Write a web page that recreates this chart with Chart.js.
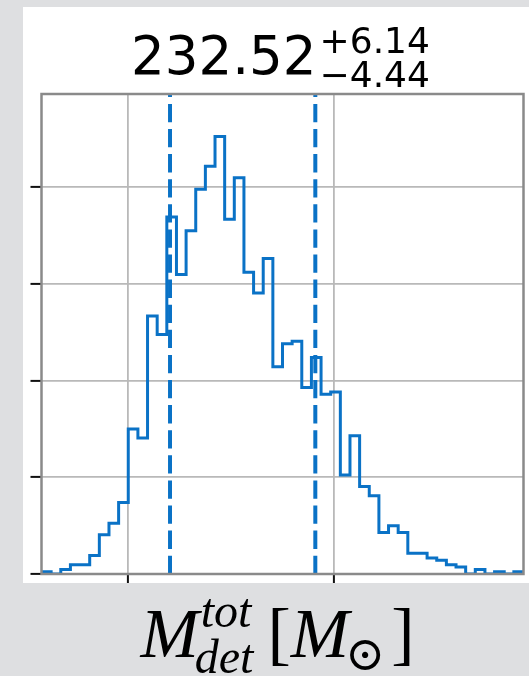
<!DOCTYPE html>
<html>
<head>
<meta charset="utf-8">
<script src="https://cdn.jsdelivr.net/npm/chart.js@4.4.1/dist/chart.umd.min.js"></script>
<style>
  html, body { margin: 0; padding: 0; background: #dedfe1; }
  canvas { display: block; }
</style>
</head>
<body>
<canvas id="c" width="529" height="676"></canvas>
<script>
// Posterior samples of the total detector-frame mass, 50 equal-width bins
const binStart = 218.72;
const binWidth = 0.702;
const binCounts = [
  1, 0, 2, 4, 4, 8, 17, 22, 31, 63,
  59, 112, 104, 155, 130, 149, 167, 177, 190, 154,
  172, 131, 122, 137, 90, 100, 101, 81, 94, 78,
  79, 43, 60, 38, 34, 18, 21, 18, 9, 9,
  7, 6, 4, 3, 0, 2, 0, 1, 0, 1
];

// Median with upper / lower credible offsets
const median = 232.52;
const errPlus = 6.14;
const errMinus = 4.44;

// Axis ticks (no tick labels are drawn)
const xTicks = [225, 240];
const yTicks = [0, 42, 84, 126, 168];
const yMax = 208.4;

const lineBlue = '#0a72c6';

// Step outline of the histogram: up from zero at the first edge, across each bin, down at the last edge
const binEnd = binStart + binCounts.length * binWidth;
const stepPoints = [{ x: binStart, y: 0 }];
binCounts.forEach((c, i) => stepPoints.push({ x: binStart + i * binWidth, y: c }));
stepPoints.push({ x: binEnd, y: binCounts[binCounts.length - 1] });
stepPoints.push({ x: binEnd, y: 0 });

const lower = median - errMinus;
const upper = median + errPlus;
const vline = (x) => [{ x: x, y: 0 }, { x: x, y: yMax }];

// White figure panel behind the axes
const panelPlugin = {
  id: 'panel',
  beforeDraw(chart) {
    const ctx = chart.ctx;
    ctx.save();
    ctx.fillStyle = '#ffffff';
    ctx.fillRect(23, 7, chart.width - 23, 576);
    ctx.restore();
  }
};

// Axes frame drawn on top of the data
const framePlugin = {
  id: 'frame',
  afterDatasetsDraw(chart) {
    const { ctx, chartArea: a } = chart;
    ctx.save();
    ctx.strokeStyle = '#8a8a8a';
    ctx.lineWidth = 2.5;
    ctx.strokeRect(a.left, a.top, a.right - a.left, a.bottom - a.top);
    ctx.restore();
  }
};

// Title "median ^{+err}_{-err}" and the x-axis label with super/subscripts
const mathTextPlugin = {
  id: 'mathText',
  afterDraw(chart) {
    const { ctx, chartArea: a } = chart;
    const cx = (a.left + a.right) / 2;
    ctx.save();
    ctx.fillStyle = '#000';
    ctx.textBaseline = 'alphabetic';
    ctx.textAlign = 'left';

    // title
    const mainTxt = median.toFixed(2);
    const supTxt = '+' + errPlus.toFixed(2);
    const subTxt = '\u2212' + errMinus.toFixed(2);
    ctx.font = '53px "DejaVu Sans"';
    const mw = ctx.measureText(mainTxt).width;
    ctx.font = '36px "DejaVu Sans"';
    const sw = Math.max(ctx.measureText(supTxt).width, ctx.measureText(subTxt).width);
    const gap = 3;
    let x0 = cx - (mw + gap + sw) / 2 - 2;
    ctx.font = '53px "DejaVu Sans"';
    ctx.fillText(mainTxt, x0, 74);
    ctx.font = '36px "DejaVu Sans"';
    ctx.fillText(supTxt, x0 + mw + gap, 53);
    ctx.fillText(subTxt, x0 + mw + gap, 87);

    // x-axis label  M^{tot}_{det} [M_sun]
    const big = 70, small = 48;
    const fBig = 'italic ' + big + 'px "Liberation Serif"';
    const fSmall = 'italic ' + small + 'px "Liberation Serif"';
    const fBracket = big + 'px "Liberation Serif"';
    const fSun = small + 'px "DejaVu Serif"';
    ctx.font = fBig; const wM = ctx.measureText('M').width;
    ctx.font = fSmall;
    const wScript = Math.max(ctx.measureText('tot').width, ctx.measureText('det').width);
    ctx.font = fBracket;
    const wL = ctx.measureText('[').width, wR = ctx.measureText(']').width;
    ctx.font = fSun; const wSun = ctx.measureText('\u2299').width;
    const total = wM + 2 + wScript + 8 + wL + wM + wSun + 2 + wR;
    let x = cx - total / 2 - 5;
    const base = 657;
    ctx.font = fBig; ctx.fillText('M', x, base); x += wM + 2;
    ctx.font = fSmall;
    ctx.fillText('tot', x, 627);
    ctx.fillText('det', x - 6, 673);
    x += wScript + 8;
    ctx.font = fBracket; ctx.fillText('[', x, base); x += wL;
    ctx.font = fBig; ctx.fillText('M', x, base); x += wM - 4;
    ctx.font = fSun; ctx.fillText('\u2299', x, 670); x += wSun + 6;
    ctx.font = fBracket; ctx.fillText(']', x, base);
    ctx.restore();
  }
};

new Chart(document.getElementById('c'), {
  type: 'line',
  data: {
    datasets: [
      {
        label: 'lower bound',
        data: vline(lower),
        borderColor: lineBlue,
        borderWidth: 4,
        borderDash: [18.3, 6.8],
        pointRadius: 0,
        order: 0
      },
      {
        label: 'upper bound',
        data: vline(upper),
        borderColor: lineBlue,
        borderWidth: 4,
        borderDash: [18.3, 6.8],
        pointRadius: 0,
        order: 0
      },
      {
        label: 'samples',
        data: stepPoints,
        stepped: 'before',
        borderColor: lineBlue,
        borderWidth: 3,
        borderJoinStyle: 'miter',
        pointRadius: 0,
        fill: false,
        order: 1
      }
    ]
  },
  options: {
    responsive: false,
    devicePixelRatio: 1,
    animation: false,
    layout: { padding: { left: 30.5, top: 94, right: 5.5, bottom: 93 } },
    plugins: {
      legend: { display: false },
      tooltip: { enabled: false },
      title: { display: false }
    },
    scales: {
      x: {
        type: 'linear',
        min: binStart,
        max: binEnd,
        afterBuildTicks: (s) => { s.ticks = xTicks.map(v => ({ value: v })); },
        ticks: { display: false },
        border: { display: false },
        grid: {
          color: '#b9b9b9',
          lineWidth: 1.8,
          drawTicks: true,
          tickLength: 9,
          tickColor: '#111111',
          tickWidth: 2
        }
      },
      y: {
        type: 'linear',
        min: 0,
        max: yMax,
        afterBuildTicks: (s) => { s.ticks = yTicks.map(v => ({ value: v })); },
        ticks: { display: false },
        border: { display: false },
        grid: {
          color: '#b9b9b9',
          lineWidth: 1.8,
          drawTicks: true,
          tickLength: 11,
          tickColor: '#111111',
          tickWidth: 2
        }
      }
    }
  },
  plugins: [panelPlugin, framePlugin, mathTextPlugin]
});
</script>
</body>
</html>
